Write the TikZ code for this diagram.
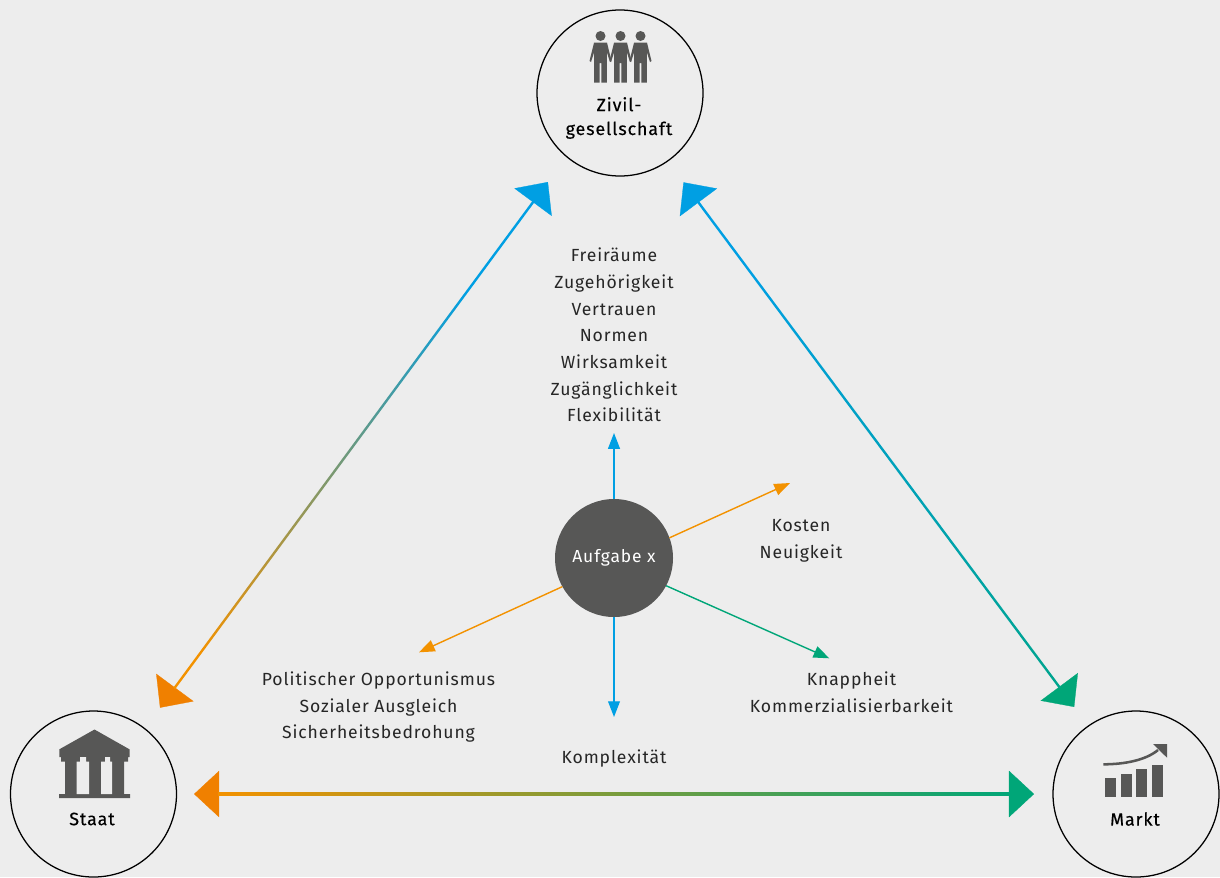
\documentclass[tikz,border=0pt]{standalone}
\usepackage{fontspec}
\setmainfont[LetterSpace=5]{Fira Sans}
\newfontfamily\actorfont[LetterSpace=5,FakeBold=0.3]{Fira Sans}
\usetikzlibrary{arrows.meta,calc}
\definecolor{bgGrey}{HTML}{EDEDED}
\definecolor{darkGrey}{HTML}{575756}
\definecolor{zivBlue}{HTML}{009FE3}
\definecolor{staOrange}{HTML}{F08000}
\definecolor{marGreen}{HTML}{00A678}
\definecolor{lineOrange}{HTML}{F39200}
\pgfdeclarehorizontalshading{blueorange}{100bp}{color(0bp)=(zivBlue); color(28bp)=(zivBlue); color(80bp)=(lineOrange); color(100bp)=(lineOrange)}
\pgfdeclarehorizontalshading{bluegreen}{100bp}{color(0bp)=(zivBlue); color(25bp)=(zivBlue); color(100bp)=(marGreen)}
\pgfdeclarehorizontalshading{orangegreen}{100bp}{color(0bp)=(lineOrange); color(25bp)=(lineOrange); color(75bp)=(marGreen); color(100bp)=(marGreen)}
\tikzset{
    actor/.style={circle,draw=black,line width=0.9pt,minimum size=166*0.025cm,inner sep=0pt,outer sep=0pt},
    actorlabel/.style={font=\actorfont\fontsize{12.7}{17}\selectfont,align=center,inner sep=0pt,text=black},
    itemlist/.style={font=\fontsize{12.5}{19}\selectfont,align=center,inner sep=0pt,text=black!85},
    smallarrow/.style={line width=1pt,-{Triangle[length=11.2pt,width=8.4pt]}},
    bigarrow/.style n args={2}{line width=0.2pt,{Triangle[length=17.8pt,width=33pt,color=#1,fill=#1]}-{Triangle[length=17.8pt,width=33pt,color=#2,fill=#2]}},
    icon/.style={fill=darkGrey,draw=none}
}
% Balken mit Verlauf
\newcommand{\gradbar}[4]{
    \shade[shading=#3,shading angle=#4] ($(#1)!0.85pt!90:(#2)$) -- ($(#2)!0.85pt!-90:(#1)$) -- ($(#2)!0.85pt!90:(#1)$) -- ($(#1)!0.85pt!-90:(#2)$) -- cycle;
}
\newcommand{\personicon}[1]{
    \fill[icon] (#1,36) circle (5);
    \fill[icon] (#1-6.5,42.7) -- (#1+6.5,42.7) -- (#1+11,61) -- (#1+9.5,62) -- (#1+6.3,52) -- (#1+6.3,82.7) -- (#1+0.8,82.7) -- (#1+0.8,63) -- (#1-0.8,63) -- (#1-0.8,82.7) -- (#1-6.3,82.7) -- (#1-6.3,52) -- (#1-9.5,62) -- (#1-11,61) -- cycle;
}
\begin{document}
\begin{tikzpicture}[x=0.025cm,y=-0.025cm]
    \fill[bgGrey] (0,0) rectangle (1220,877);
    \useasboundingbox (0,0) rectangle (1220,877);

    % Akteure
    \node[actor] (zivil) at (620,93) {};
    \node[actor] (staat) at (93.5,794) {};
    \node[actor] (markt) at (1136,794) {};
    \node[circle,fill=darkGrey,minimum size=118*0.025cm,inner sep=0pt,outer sep=0pt] (aufgabe) at (614,558) {};
    \node[inner sep=0pt,text=white,font=\fontsize{12.4}{14}\selectfont] (aufgabetext) at (614,557.5) {Aufgabe x};

    \node[actorlabel] (zivillabel) at (619,118) {Zivil-\\gesellschaft};
    \node[actorlabel] (staatlabel) at (92,819) {Staat};
    \node[actorlabel] (marktlabel) at (1135,819) {Markt};

    % Pfeile zwischen den Akteuren
    \draw[bigarrow={zivBlue}{staOrange},shorten <=0.79cm,shorten >=0.65cm,gray] (zivil.230.1) -- (staat.52.9);
    \draw[bigarrow={zivBlue}{marGreen},shorten <=0.665cm,shorten >=0.595cm,gray] (zivil.305.4) -- (markt.125.2);
    \draw[bigarrow={staOrange}{marGreen},shorten <=0.44cm,shorten >=0.475cm,gray] (staat.east) -- (markt.west);

    \coordinate (zivS) at ($(zivil.230.1)!0.79cm+17pt!(staat.52.9)$);
    \coordinate (staE) at ($(staat.52.9)!0.65cm+17pt!(zivil.230.1)$);
    \coordinate (zivR) at ($(zivil.305.4)!0.665cm+17pt!(markt.125.2)$);
    \coordinate (marE) at ($(markt.125.2)!0.595cm+17pt!(zivil.305.4)$);
    \coordinate (staB) at ($(staat.east)!0.44cm+17pt!(markt.west)$);
    \coordinate (marB) at ($(markt.west)!0.475cm+17pt!(staat.east)$);
    \gradbar{zivS}{staE}{blueorange}{233.5}
    \gradbar{zivR}{marE}{bluegreen}{306.6}
    \gradbar{staB}{marB}{orangegreen}{0}

    % Pfeile von der Aufgabe
    \coordinate (tipfrei) at (614,433);
    \coordinate (tipkosten) at (790,483);
    \coordinate (tipknapp) at (829.3,658.3);
    \coordinate (tipkomplex) at (614,717);
    \coordinate (tippolitik) at (419,652.3);
    \draw[smallarrow,zivBlue] (aufgabe.north) -- (tipfrei);
    \draw[smallarrow,zivBlue] (aufgabe.south) -- (tipkomplex);
    \draw[smallarrow,lineOrange] (aufgabe.20) -- (tipkosten);
    \draw[smallarrow,lineOrange] (aufgabe.209.5) -- (tippolitik);
    \draw[smallarrow,marGreen] (aufgabe.332.9) -- (tipknapp);

    % Beschriftungen
    \node[itemlist] (freiraeume) at (614,335) {Freiräume\\Zugehörigkeit\\Vertrauen\\Normen\\Wirksamkeit\\Zugänglichkeit\\Flexibilität};
    \node[itemlist] (kosten) at (801,541) {Kosten\\Neuigkeit};
    \node[itemlist] (politik) at (378.5,707) {Politischer Opportunismus\\Sozialer Ausgleich\\Sicherheitsbedrohung};
    \node[itemlist] (knappheit) at (851.5,692) {Knappheit\\Kommerzialisierbarkeit};
    \node[itemlist] (komplex) at (614,758) {Komplexität};

    % Symbol Zivilgesellschaft
    \personicon{600.5}
    \personicon{620.5}
    \personicon{640.5}

    % Symbol Staat
    \fill[icon] (94.5,729.5) -- (129.5,749.3) -- (129.5,757) -- (128,757) -- (128,761.7) -- (124,761.7) -- (124,794) -- (130,794) -- (130,798) -- (59,798) -- (59,794) -- (65,794) -- (65,761.7) -- (61,761.7) -- (61,757) -- (59.3,757) -- (59.3,749.3) -- cycle;
    \fill[bgGrey] (76.7,794) -- (76.7,761.7) -- (80,761.7) -- (80,757) -- (86,757) -- (86,761.7) -- (89,761.7) -- (89,794) -- cycle;
    \fill[bgGrey] (101,794) -- (101,761.7) -- (105,761.7) -- (105,757) -- (110,757) -- (110,761.7) -- (112,761.7) -- (112,794) -- cycle;

    % Symbol Markt
    \fill[icon] (1105,777.7) rectangle (1116,797);
    \fill[icon] (1121,774) rectangle (1132,797);
    \fill[icon] (1136,769) rectangle (1147,797);
    \fill[icon] (1152,765) rectangle (1163,797);
    \draw[darkGrey,line width=1.8pt] (1103.3,764.3) .. controls (1125,764.3) and (1146,760) .. (1158,750);
    \fill[icon] (1153,744) -- (1167,744) -- (1167,757.7) -- cycle;
\end{tikzpicture}
\end{document}
